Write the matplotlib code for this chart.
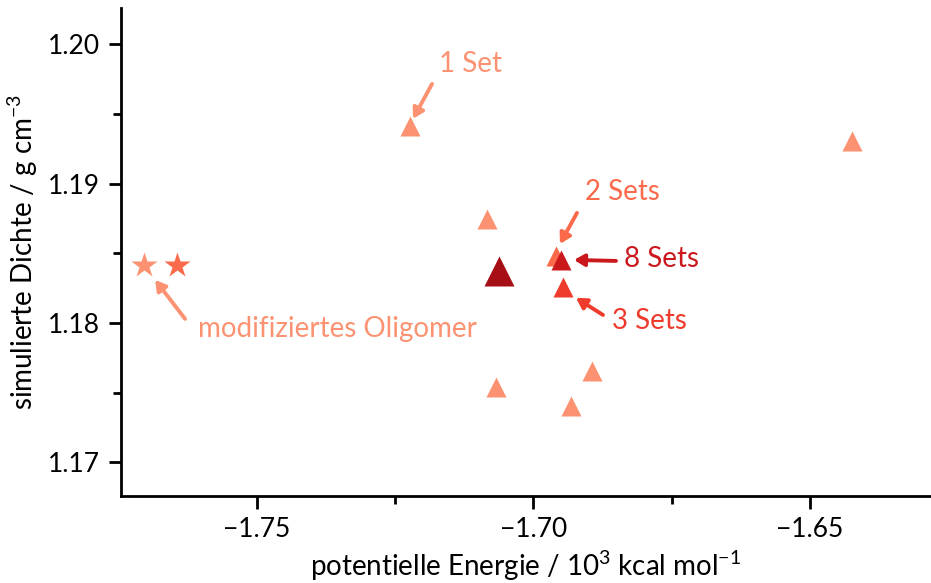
import matplotlib
matplotlib.use("Agg")
import matplotlib.pyplot as plt
from matplotlib.ticker import MultipleLocator

plt.rcParams["font.family"] = ["Lato", "DejaVu Sans"]
plt.rcParams["mathtext.fontset"] = "custom"
plt.rcParams["mathtext.rm"] = "Lato"
plt.rcParams["mathtext.it"] = "Lato:italic"

# data (energy / 10^3 kcal mol^-1, density / g cm^-3)
tri_x = [-1.72233, -1.6424, -1.70841, -1.70678, -1.68942, -1.69322]
tri_y = [1.19414, 1.19307, 1.18747, 1.17541, 1.17655, 1.17404]
set2_x, set2_y = -1.69593, 1.18481
set8_x, set8_y = -1.69503, 1.18452
set3_x, set3_y = -1.69467, 1.18258
best_x, best_y = -1.70624, 1.18373
star_x = [-1.7704, -1.76447]
star_y = [1.18416, 1.18416]

c_light = "#FC9272"
c_mid = "#FB6A4A"
c_3 = "#EF3B2C"
c_8 = "#CB181D"
c_dark = "#A50F15"

fig = plt.figure(figsize=(9.31, 5.83), dpi=100)
ax = fig.add_axes([0.130, 0.149, 0.870, 0.837])

ax.plot(tri_x, tri_y, "^", ms=15, color=c_light, mec="none", ls="none")
ax.plot(star_x[0], star_y[0], "*", ms=19, color=c_light, mec="none")
ax.plot(star_x[1], star_y[1], "*", ms=19, color=c_mid, mec="none")
ax.plot(set2_x, set2_y, "^", ms=15, color=c_mid, mec="none")
ax.plot(best_x, best_y, "^", ms=21, color=c_dark, mec="none")
ax.plot(set3_x, set3_y, "^", ms=15, color=c_3, mec="none")
ax.plot(set8_x, set8_y, "^", ms=15, color=c_8, mec="none")

fs = 20


def label(text, txy, tail, tip, color):
    ax.text(txy[0], txy[1], text, color=color, fontsize=fs, ha="center", va="center")
    ax.annotate("", xy=tip, xytext=tail,
                arrowprops=dict(arrowstyle="-|>,head_length=0.6,head_width=0.35",
                                color=color, lw=2.8, shrinkA=0, shrinkB=0))


label("1 Set", (-1.71148, 1.19860), (-1.71835, 1.19716), (-1.72179, 1.19465), c_light)
label("2 Sets", (-1.68382, 1.18941), (-1.69213, 1.18790), (-1.69521, 1.18567), c_mid)
label("8 Sets", (-1.67676, 1.18460), (-1.68508, 1.18445), (-1.69268, 1.18452), c_8)
label("3 Sets", (-1.67911, 1.18014), (-1.68743, 1.18057), (-1.69232, 1.18180), c_3)
label("modifiziertes Oligomer", (-1.73553, 1.17957), (-1.76302, 1.18029),
      (-1.76844, 1.18309), c_light)

ax.set_xlim(-1.7746, -1.6281)
ax.set_ylim(1.16756, 1.2026)
ax.xaxis.set_major_locator(MultipleLocator(0.05))
ax.xaxis.set_minor_locator(MultipleLocator(0.025))
ax.yaxis.set_major_locator(MultipleLocator(0.01))
ax.yaxis.set_minor_locator(MultipleLocator(0.005))
ax.xaxis.set_major_formatter(plt.FuncFormatter(lambda v, p: f"{v:.2f}".replace("-", "\u2212")))
ax.yaxis.set_major_formatter(plt.FuncFormatter(lambda v, p: f"{v:.2f}"))

for s in ["top", "right"]:
    ax.spines[s].set_visible(False)
for s in ["left", "bottom"]:
    ax.spines[s].set_linewidth(2)
ax.tick_params(which="major", direction="out", length=9, width=2, labelsize=19, pad=6)
ax.tick_params(which="minor", direction="out", length=6, width=2)

ax.set_xlabel("potentielle Energie / 10$^3$ kcal mol$^{-1}$", fontsize=fs, labelpad=5)
ax.set_ylabel("simulierte Dichte / g cm$^{-3}$", fontsize=fs, labelpad=6)

fig.savefig("out.png", dpi=100)
